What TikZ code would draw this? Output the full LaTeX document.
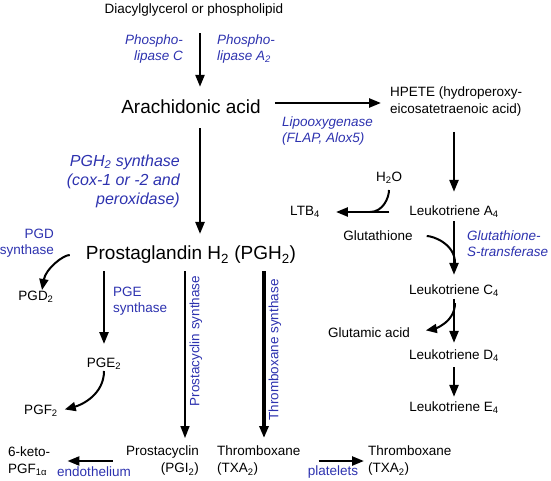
\documentclass[tikz,border=0pt]{standalone}
\usepackage{fontspec}
\setmainfont{Liberation Sans}
\usetikzlibrary{arrows.meta,positioning}
\definecolor{enzblue}{RGB}{45,50,175}
\newcommand{\dn}[1]{\textsubscript{#1}}

\begin{document}
\begin{tikzpicture}[x=1pt, y=-1pt,
    txt/.style={font=\fontsize{13.5}{17}\selectfont, inner sep=1pt, align=left},
    big/.style={font=\fontsize{19}{22}\selectfont, inner sep=1pt},
    enz/.style={txt, text=enzblue, font=\fontsize{13.5}{16}\selectfont\itshape},
    enzup/.style={txt, text=enzblue, font=\fontsize{13.5}{16}\selectfont},
    arr/.style={-{Triangle[length=12pt,width=9pt]}, line width=2.4pt},
    thinarr/.style={arr, line width=1.6pt},
    curv/.style={-{Triangle[length=11pt,width=9pt]}, line width=2pt},
    merge/.style={line width=2pt}]
    \useasboundingbox (0,0) rectangle (551,481);

    % Compounds
    \node[txt] (dag) at (194,10) {Diacylglycerol or phospholipid};
    \node[big] (ara) at (191,107) {Arachidonic acid};
    \node[big] (pgh) at (191,255) {Prostaglandin H\dn{2} (PGH\dn{2})};
    \node[txt, anchor=west] (hpete) at (389,102) {HPETE (hydroperoxy-\\eicosatetraenoic acid)};
    \node[txt] (h2o) at (389,178) {H\dn{2}O};
    \node[txt] (ltb) at (305,212) {LTB\dn{4}};
    \node[txt] (gsh) at (378,236) {Glutathione};
    \node[txt] (glu) at (369,333) {Glutamic acid};
    \foreach \n/\s/\y in {a/A/212, c/C/291, d/D/356, e/E/408} {
        \node[txt] (lt\n) at (454,\y) {Leukotriene \s\dn{4}};
    }
    \node[txt] (pgd) at (36,297) {PGD\dn{2}};
    \node[txt] (pge) at (104,364) {PGE\dn{2}};
    \node[txt] (pgf) at (41,411) {PGF\dn{2}};
    \node[txt, anchor=west] (keto) at (7,461) {6-keto-\\PGF\dn{1α}};
    \node[txt, anchor=east, align=right] (pgi) at (200,461) {Prostacyclin\\(PGI\dn{2})};
    \node[txt, anchor=west] (txa) at (216,461) {Thromboxane\\(TXA\dn{2})};
    \node[txt, anchor=west] (txb) at (367,461) {Thromboxane\\(TXA\dn{2})};

    % Enzymes
    \node[enz, anchor=east, align=right] (plc) at (184,49) {Phospho-\\lipase C};
    \node[enz, anchor=west] (pla) at (216,49) {Phospho-\\lipase A\dn{2}};
    \node[enz, anchor=west] (lox) at (281,131) {Lipooxygenase\\(FLAP, Alox5)};
    \node[enz, anchor=east, align=right, font=\fontsize{16}{19}\selectfont\itshape] (pghs) at (181,181) {PGH\dn{2} synthase\\(cox-1 or -2 and\\peroxidase)};
    \node[enz, anchor=west] (gst) at (466,244) {Glutathione-\\S-transferase};
    \node[enzup, anchor=east, align=right] (pgds) at (55,243) {PGD\\synthase};
    \node[enzup, anchor=west] (pges) at (112,301) {PGE\\synthase};
    \node[enzup, rotate=90] (pgis) at (196,341) {Prostacyclin synthase};
    \node[enzup, rotate=90] (txas) at (275,350) {Thromboxane synthase};
    \node[enzup] (endo) at (94,472) {endothelium};
    \node[enzup] (plt) at (333,472) {platelets};

    % Columns of the vertical arrows
    \coordinate (ax) at (200,0);
    \coordinate (cx) at (185,0);
    \coordinate (tx) at (264,0);

    % Arachidonic acid branch
    \draw [arr, shorten <=16pt, shorten >=12pt] (dag.south -| ax) -- (ara.north -| ax);
    \draw [arr, shorten <=13pt, shorten >=8pt] ([yshift=4pt]ara.east) -- ([yshift=4pt]ara.east -| hpete.west);
    \draw [arr, shorten <=13pt, shorten >=11pt] (ara.south -| ax) -- (pgh.north -| ax);

    % Leukotrienes
    \draw [arr, shorten <=14pt, shorten >=13pt] (hpete.south -| lta) -- (lta.north);
    \draw [arr, shorten <=19pt, shorten >=15pt] (lta.west) -- (ltb.east);
    \coordinate (j1) at (370,212);
    \draw [merge, shorten <=5pt] (h2o.south) to[out=-90, in=0] (j1);
    \draw [arr, shorten <=2pt, shorten >=9pt] (lta.south) -- (ltc.north);
    \coordinate (j2) at (455,263);
    \draw [merge, shorten <=13pt] (gsh.east) to[out=0, in=90] (j2);
    \draw [arr, shorten <=1pt, shorten >=6pt] (ltc.south) -- (ltd.north);
    \coordinate (j3) at (455,303);
    \draw [curv, shorten >=15pt] (j3) to[out=-90, in=10] (glu.east);
    \draw [arr, shorten <=4pt, shorten >=4pt] (ltd.south) -- (lte.north);

    % Prostanoids
    \draw [curv, shorten <=15pt] (pgh.west) to[out=180, in=80] ([xshift=6pt]pgd.north);
    \draw [arr, shorten <=6pt, shorten >=13pt] (pgh.south -| pge) -- (pge.north);
    \draw [curv, shorten >=6pt] (pge.south) to[out=-90, in=15] (pgf.east);
    \draw [thinarr, shorten <=6pt, shorten >=7pt] (pgh.south -| cx) -- (pgi.north -| cx);
    \draw [arr, line width=3.2pt, shorten <=6pt, shorten >=7pt] (pgh.south -| tx) -- (txa.north -| tx);
    \draw [arr, shorten <=12pt, shorten >=16pt] (pgi.west) -- (keto.east);
    \draw [arr, shorten <=17pt, shorten >=3pt] (txa.east) -- (txb.west);
\end{tikzpicture}
\end{document}
